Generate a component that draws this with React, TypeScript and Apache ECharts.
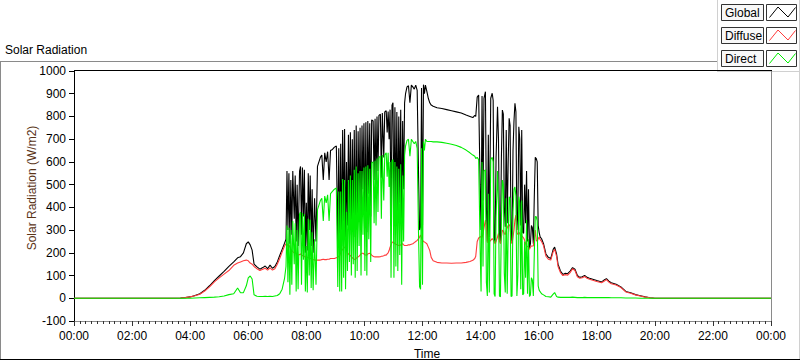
import React, { useEffect, useRef } from "react";
import * as echarts from "echarts";

// time of day in minutes
const times = [
  0, 200, 220, 230, 240, 250, 260, 270, 280, 290, 300, 310, 320, 330, 338, 344, 350, 356, 360, 364, 368, 372, 378, 384, 390, 395, 400, 405, 410, 415, 420, 425, 430, 435, 438,
  440, 442, 444, 446, 448, 450, 452, 455, 457, 459,
  461, 463, 466, 468, 470, 472, 474, 476, 478, 480,
  482, 484, 486, 488, 490, 492, 494, 497, 500, 503,
  506, 509, 512, 515, 518, 521, 524, 527, 530, 534,
  538, 542, 545, 547, 549, 551, 553, 555, 557, 559,
  561, 563, 565, 567, 569, 571, 573, 575, 577, 579,
  581, 583, 585, 587, 589, 591, 593, 595, 597, 599,
  601, 603, 605, 607, 609, 611, 613, 615, 618, 620,
  622, 624, 626, 628, 630, 633, 635, 637, 640, 642,
  645, 647, 649, 651, 653, 655, 657, 659, 661, 663,
  665, 667, 669, 671, 673, 675, 677, 679, 681, 683,
  685, 688, 691, 694, 697, 700, 703, 706, 709, 712,
  714, 716, 718, 720, 722, 724, 726, 729, 732, 735,
  738,
  742, 750, 760, 770, 780, 790, 800, 810, 818, 824, 828,
  830, 833, 836, 839, 841, 843, 845, 847, 850, 852,
  854, 856, 858, 861, 864, 866, 868, 870, 872, 875,
  877, 879, 881, 883, 885, 887, 889, 891, 893, 895,
  897, 899, 901, 903, 905, 907, 909, 911, 913, 915,
  917, 919, 921, 923, 925, 927, 929, 931, 933, 935,
  937, 939, 941, 943, 945, 947, 949, 951, 953, 955,
  957, 959, 961, 963, 966, 970,
  975, 980, 985, 990, 993, 997, 1000, 1005, 1010, 1015,
  1020, 1025, 1030, 1035, 1040, 1045, 1050, 1055, 1060, 1065,
  1070, 1080, 1090, 1095, 1100, 1105, 1110, 1120, 1130, 1140,
  1150, 1160, 1170, 1180, 1190, 1200, 1440,
];

const globalVals = [
  0, 0, 1, 3, 6, 12, 20, 35, 55, 78, 98, 118, 140, 160, 178, 183, 200, 240, 248, 235, 212, 150, 138, 128, 135, 142, 130, 146, 132, 140, 160, 188, 215, 242, 260,
  560, 300, 550, 240, 520, 280, 560, 350, 540, 250,
  500, 230, 560, 580, 280, 575, 360, 565, 200, 420,
  210, 550, 300, 540, 230, 480, 200, 440, 250, 580,
  600, 620, 630, 520, 640, 600, 645, 520, 650, 655,
  665, 670, 240, 660, 200, 680, 230, 740, 300, 745,
  260, 600, 320, 720, 350, 730, 280, 700, 320, 740,
  270, 760, 300, 735, 420, 750, 300, 760, 480, 770,
  310, 775, 290, 780, 460, 770, 360, 785, 780, 520,
  790, 500, 800, 560, 805, 810, 530, 815, 620, 820,
  825, 730, 822, 700, 830, 320, 850, 860, 330, 840,
  380, 820, 350, 800, 420, 830, 300, 780, 480, 860,
  900, 930, 935, 860, 938, 930, 920, 938, 915, 520,
  300, 315, 925, 320, 940, 900, 938, 910, 880, 860,
  850,
  845, 838, 835, 830, 825, 820, 815, 806, 800, 795, 805,
  800, 885, 894, 500, 300, 890, 430, 880, 909, 400,
  250, 720, 270, 880, 902, 870, 270, 245, 620, 843,
  700, 260, 245, 620, 828, 810, 400, 315, 740, 330,
  600, 792, 760, 260, 245, 650, 780, 858, 820, 300,
  380, 755, 700, 320, 740, 290, 286, 500, 330, 560,
  250, 480, 220, 240, 320, 310, 240, 450, 620, 615,
  600, 320, 290, 270, 262, 240,
  195, 180, 175, 215, 225, 195, 150, 120, 105, 110,
  108, 120, 135, 128, 100, 92, 95, 100, 92, 88,
  85, 78, 72, 80, 86, 75, 68, 62, 50, 30,
  24, 16, 11, 6, 2, 0, 0,
];

const diffuseVals = [
  0, 0, 1, 3, 6, 11, 18, 32, 50, 72, 90, 106, 122, 145, 155, 160, 165, 168, 165, 155, 150, 140, 130, 122, 128, 132, 124, 134, 124, 130, 150, 175, 203, 230, 240,
  240, 230, 235, 225, 215, 210, 205, 200, 200, 198,
  195, 190, 192, 195, 190, 188, 185, 185, 180, 182,
  180, 178, 176, 175, 175, 172, 170, 168, 168, 168,
  168, 168, 170, 172, 170, 170, 172, 172, 175, 175,
  175, 178, 180, 185, 188, 200, 210, 215, 220, 225,
  227, 215, 200, 195, 190, 188, 182, 178, 175, 172,
  170, 175, 180, 182, 185, 190, 195, 198, 198, 195,
  192, 190, 190, 195, 197, 198, 195, 190, 185, 183,
  182, 182, 183, 182, 182, 183, 185, 185, 187, 190,
  190, 195, 200, 210, 225, 235, 245, 248, 245, 240,
  238, 236, 234, 232, 232, 235, 238, 240, 235, 232,
  232, 232, 235, 235, 238, 240, 245, 250, 255, 262,
  270, 278, 265, 255, 250, 248, 245, 240, 225, 210,
  180,
  165, 158, 155, 155, 154, 155, 155, 158, 162, 167, 175,
  185, 250, 265, 270, 270, 268, 285, 310, 344, 320,
  245, 250, 248, 255, 262, 258, 250, 240, 250, 270,
  285, 255, 240, 270, 300, 295, 285, 280, 300, 310,
  320, 325, 315, 255, 240, 270, 300, 345, 366, 290,
  280, 290, 285, 275, 275, 270, 265, 255, 240, 230,
  228, 225, 215, 225, 230, 230, 230, 260, 300, 256,
  250, 262, 270, 258, 250, 232,
  185, 172, 168, 205, 215, 185, 140, 113, 100, 104,
  102, 113, 130, 122, 95, 88, 90, 96, 88, 84,
  80, 74, 68, 75, 82, 71, 64, 58, 47, 28,
  22, 15, 10, 5, 2, 0, 0,
];

const directVals = [
  0, 0, 0, 0, 0, 1, 2, 3, 4, 5, 7, 10, 16, 20, 45, 24, 25, 55, 90, 98, 85, 15, 9, 8, 8, 9, 8, 9, 8, 10, 12, 20, 40, 88, 140,
  320, 70, 310, 15, 300, 60, 340, 150, 330, 30,
  300, 40, 370, 380, 60, 375, 170, 370, 30, 230,
  25, 350, 100, 345, 45, 290, 35, 260, 60, 390,
  410, 430, 440, 340, 450, 420, 455, 340, 460, 470,
  480, 485, 50, 470, 30, 470, 30, 525, 90, 520,
  40, 380, 120, 520, 160, 540, 100, 520, 150, 565,
  90, 580, 120, 550, 230, 560, 100, 560, 280, 575,
  120, 580, 100, 585, 260, 570, 160, 595, 600, 330,
  605, 320, 615, 380, 620, 625, 350, 630, 430, 630,
  640, 535, 640, 490, 600, 90, 605, 610, 90, 600,
  140, 580, 120, 570, 190, 590, 60, 540, 250, 630,
  670, 695, 700, 625, 700, 690, 680, 690, 660, 260,
  50, 40, 660, 60, 690, 650, 700, 690, 690, 690,
  690,
  688, 688, 686, 682, 678, 672, 664, 652, 640, 630, 625,
  615, 620, 610, 230, 30, 600, 140, 560, 565, 70,
  10, 460, 25, 610, 620, 600, 20, 8, 360, 560,
  400, 10, 7, 340, 520, 500, 110, 25, 440, 20,
  280, 447, 440, 8, 10, 380, 480, 490, 450, 10,
  100, 447, 418, 40, 430, 15, 20, 250, 90, 344,
  20, 260, 8, 15, 90, 80, 10, 200, 360, 359,
  340, 55, 36, 29, 20, 15,
  8, 7, 5, 18, 25, 8, 5, 4, 4, 4,
  4, 4, 5, 4, 3, 3, 3, 4, 3, 3,
  3, 3, 3, 3, 3, 3, 2, 2, 2, 1,
  1, 1, 0, 0, 0, 0, 0,
];

const seriesNames = ["Global", "Diffuse", "Direct"];
const seriesColors = ["#000000", "#ff3c3c", "#00ee00"];
const chartTitle = "Solar Radiation";
const yAxisTitle = "Solar Radiation (W/m2)";
const xAxisTitle = "Time";

const FONT = '"Liberation Sans", Arial, sans-serif';

const pad = (n: number) => (n < 10 ? "0" + n : "" + n);
const fmtTime = (v: number) => {
  const h = Math.floor(v / 60) % 24;
  const m = Math.round(v % 60);
  return pad(h) + ":" + pad(m);
};

export default function App() {
  const ref = useRef<HTMLDivElement>(null);

  useEffect(() => {
    document.body.style.margin = "0";
    if (!ref.current) return;
    const chart = echarts.init(ref.current, undefined, { renderer: "svg" });

    const GL = 74, GT = 71, GW = 697, GH = 250;
    const valueSets = [globalVals, diffuseVals, directVals];

    const legendEls: any[] = [];
    seriesNames.forEach((name, i) => {
      const y0 = 4.5 + 23 * i;
      legendEls.push({
        type: "rect",
        shape: { x: 721.5, y: y0, width: 42, height: 16 },
        style: { fill: "#f8f8f8", stroke: "#333", lineWidth: 1 },
      });
      legendEls.push({
        type: "text",
        x: 725,
        y: y0 + 8.5,
        style: {
          text: name, font: `12px ${FONT}`, fill: "#000",
          align: "left", verticalAlign: "middle",
          textAlign: "left", textVerticalAlign: "middle",
        },
      });
      legendEls.push({
        type: "rect",
        shape: { x: 766.5, y: y0, width: 30, height: 16 },
        style: { fill: "#fff", stroke: "#333", lineWidth: 1 },
      });
      legendEls.push({
        type: "polyline",
        shape: {
          points: [
            [769.5, y0 + 13],
            [778, y0 + 2.5],
            [788, y0 + 12.5],
            [795.5, y0 + 3],
          ],
        },
        style: { stroke: seriesColors[i], lineWidth: 1, fill: "none" },
      });
    });

    const option: any = {
      animation: false,
      backgroundColor: "#ffffff",
      textStyle: { fontFamily: FONT },
      grid: { left: GL, top: GT, width: GW, height: GH, containLabel: false },
      xAxis: {
        type: "value",
        min: 0,
        max: 1440,
        interval: 120,
        axisLine: { show: true, onZero: false, lineStyle: { color: "#8a8a8a", width: 1 } },
        axisTick: { show: true, length: 5, lineStyle: { color: "#333" } },
        minorTick: { show: true, splitNumber: 10, length: 3, lineStyle: { color: "#333" } },
        splitLine: { show: false },
        minorSplitLine: { show: false },
        axisLabel: { formatter: fmtTime, color: "#000", fontSize: 12, margin: 9, fontFamily: FONT },
      },
      yAxis: {
        type: "value",
        min: -100,
        max: 1000,
        interval: 100,
        axisLine: { show: true, lineStyle: { color: "#000", width: 1 } },
        axisTick: { show: true, length: 5, lineStyle: { color: "#000" } },
        splitLine: { show: false },
        axisLabel: {
          color: "#000", fontSize: 12, margin: 8, fontFamily: FONT,
          formatter: (v: number) => String(v),
        },
      },
      series: seriesNames.map((name, i) => ({
        name,
        type: "line",
        data: times.map((t, k) => [t, valueSets[i][k]]),
        showSymbol: false,
        symbol: "none",
        smooth: false,
        lineStyle: { color: seriesColors[i], width: 1.1 },
        itemStyle: { color: seriesColors[i] },
        z: 2 + i,
        silent: true,
      })),
      graphic: [
        {
          type: "text",
          x: 5,
          y: 50,
          style: {
            text: chartTitle, font: `12px ${FONT}`, fill: "#000",
            align: "left", verticalAlign: "middle",
            textAlign: "left", textVerticalAlign: "middle",
          },
        },
        // outer frame
        { type: "line", shape: { x1: 0, y1: 61.5, x2: 717, y2: 61.5 }, style: { stroke: "#8a8a8a", lineWidth: 1 } },
        { type: "line", shape: { x1: 0.5, y1: 61, x2: 0.5, y2: 360 }, style: { stroke: "#8a8a8a", lineWidth: 1 } },
        { type: "line", shape: { x1: 0, y1: 359.5, x2: 800, y2: 359.5 }, style: { stroke: "#000", lineWidth: 1 } },
        // legend panel border
        { type: "line", shape: { x1: 717.5, y1: 0, x2: 717.5, y2: 72 }, style: { stroke: "#d0d0d0", lineWidth: 1 } },
        { type: "line", shape: { x1: 717, y1: 71.5, x2: 800, y2: 71.5 }, style: { stroke: "#d0d0d0", lineWidth: 1 } },
        { type: "line", shape: { x1: 799.5, y1: 0, x2: 799.5, y2: 359 }, style: { stroke: "#d0d0d0", lineWidth: 1 } },
        // plot top & right border
        { type: "line", shape: { x1: GL, y1: GT - 0.5, x2: GL + GW + 1, y2: GT - 0.5 }, style: { stroke: "#000", lineWidth: 1 } },
        { type: "line", shape: { x1: GL + GW + 0.5, y1: GT, x2: GL + GW + 0.5, y2: GT + GH }, style: { stroke: "#8a8a8a", lineWidth: 1 } },
        // axis titles
        {
          type: "text",
          x: 32,
          y: 188,
          rotation: Math.PI / 2,
          style: {
            text: yAxisTitle, font: `12px ${FONT}`, fill: "#5a3418",
            align: "center", verticalAlign: "middle",
            textAlign: "center", textVerticalAlign: "middle",
          },
        },
        {
          type: "text",
          x: 427,
          y: 354,
          style: {
            text: xAxisTitle, font: `12px ${FONT}`, fill: "#000",
            align: "center", verticalAlign: "middle",
            textAlign: "center", textVerticalAlign: "middle",
          },
        },
        ...legendEls,
      ],
    };

    chart.setOption(option);
    return () => chart.dispose();
  }, []);

  return (
    <div
      ref={ref}
      style={{ position: "absolute", left: 0, top: 0, width: 800, height: 361 }}
    />
  );
}
